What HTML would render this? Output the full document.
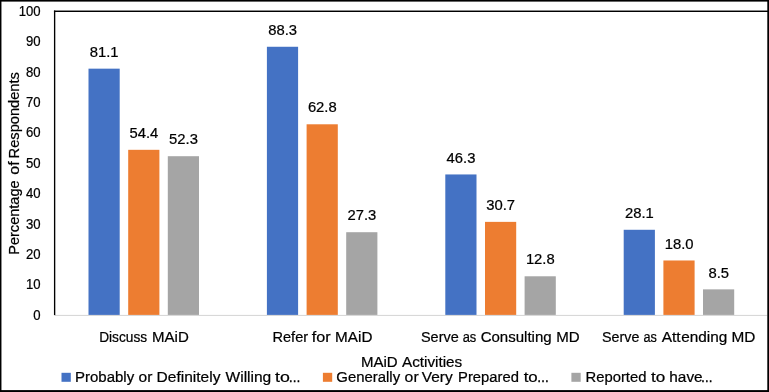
<!DOCTYPE html><html><head><meta charset="utf-8"><title>Chart</title><style>html,body{margin:0;padding:0;background:#fff}svg{display:block;will-change:transform}text{font-family:"Liberation Sans",sans-serif;font-size:14.9px;fill:#000;stroke:#000;stroke-width:0.22px}.d{font-size:14.8px;text-anchor:middle}.t{font-size:14.2px;text-anchor:end}</style></head><body>
<svg width="769" height="392" viewBox="0 0 769 392">
<rect x="0" y="0" width="769" height="392" fill="#fff"/>
<rect x="55" y="314.9" width="712.4" height="1.0" fill="#d4d4d4"/>
<rect x="88.50" y="68.66" width="31.20" height="246.24" fill="#4472C4"/>
<text class="d" x="104.20" y="56.86">81.1</text>
<rect x="128.20" y="149.82" width="31.20" height="165.08" fill="#ED7D31"/>
<text class="d" x="143.90" y="138.02">54.4</text>
<rect x="167.80" y="156.21" width="31.20" height="158.69" fill="#A5A5A5"/>
<text class="d" x="183.50" y="144.41">52.3</text>
<rect x="266.90" y="46.77" width="31.20" height="268.13" fill="#4472C4"/>
<text class="d" x="282.60" y="34.97">88.3</text>
<rect x="306.60" y="124.29" width="31.20" height="190.61" fill="#ED7D31"/>
<text class="d" x="322.30" y="112.49">62.8</text>
<rect x="346.20" y="232.21" width="31.20" height="82.69" fill="#A5A5A5"/>
<text class="d" x="361.90" y="220.41">27.3</text>
<rect x="445.30" y="174.45" width="31.20" height="140.45" fill="#4472C4"/>
<text class="d" x="461.00" y="162.65">46.3</text>
<rect x="485.00" y="221.87" width="31.20" height="93.03" fill="#ED7D31"/>
<text class="d" x="500.70" y="210.07">30.7</text>
<rect x="524.60" y="276.29" width="31.20" height="38.61" fill="#A5A5A5"/>
<text class="d" x="540.30" y="264.49">12.8</text>
<rect x="623.70" y="229.78" width="31.20" height="85.12" fill="#4472C4"/>
<text class="d" x="639.40" y="217.98">28.1</text>
<rect x="663.40" y="260.48" width="31.20" height="54.42" fill="#ED7D31"/>
<text class="d" x="679.10" y="248.68">18.0</text>
<rect x="703.00" y="289.36" width="31.20" height="25.54" fill="#A5A5A5"/>
<text class="d" x="718.70" y="277.56">8.5</text>
<rect x="53.95" y="10.55" width="714" height="1.45" fill="#000"/>
<rect x="53.95" y="10.55" width="1.35" height="304.6" fill="#000"/>
<rect x="0" y="0" width="769" height="1.6" fill="#000"/>
<rect x="0" y="390.1" width="769" height="1.9" fill="#000"/>
<rect x="0" y="0" width="1.45" height="392" fill="#000"/>
<rect x="767.3" y="0" width="1.7" height="392" fill="#000"/>
<text class="t" x="40.6" y="319.80" textLength="7.31" lengthAdjust="spacingAndGlyphs">0</text>
<text class="t" x="40.6" y="289.40" textLength="14.61" lengthAdjust="spacingAndGlyphs">10</text>
<text class="t" x="40.6" y="259.00" textLength="14.61" lengthAdjust="spacingAndGlyphs">20</text>
<text class="t" x="40.6" y="228.60" textLength="14.61" lengthAdjust="spacingAndGlyphs">30</text>
<text class="t" x="40.6" y="198.20" textLength="14.61" lengthAdjust="spacingAndGlyphs">40</text>
<text class="t" x="40.6" y="167.80" textLength="14.61" lengthAdjust="spacingAndGlyphs">50</text>
<text class="t" x="40.6" y="137.40" textLength="14.61" lengthAdjust="spacingAndGlyphs">60</text>
<text class="t" x="40.6" y="107.00" textLength="14.61" lengthAdjust="spacingAndGlyphs">70</text>
<text class="t" x="40.6" y="76.60" textLength="14.61" lengthAdjust="spacingAndGlyphs">80</text>
<text class="t" x="40.6" y="46.20" textLength="14.61" lengthAdjust="spacingAndGlyphs">90</text>
<text class="t" x="40.6" y="15.80" textLength="21.92" lengthAdjust="spacingAndGlyphs">100</text>
<text transform="translate(19.4,0) rotate(-90)" y="0"><tspan x="-254.80" textLength="74.45" lengthAdjust="spacingAndGlyphs">Percentage</tspan> <tspan x="-174.68" textLength="13.26" lengthAdjust="spacingAndGlyphs">of</tspan> <tspan x="-158.41" textLength="86.33" lengthAdjust="spacingAndGlyphs">Respondents</tspan></text>
<text y="342.10"><tspan x="99.17" textLength="48.02" lengthAdjust="spacingAndGlyphs">Discuss</tspan> <tspan x="152.06" textLength="36.74" lengthAdjust="spacingAndGlyphs">MAiD</tspan></text>
<text y="342.10"><tspan x="272.50" textLength="35.63" lengthAdjust="spacingAndGlyphs">Refer</tspan> <tspan x="311.86" textLength="18.88" lengthAdjust="spacingAndGlyphs">for</tspan> <tspan x="335.14" textLength="37.27" lengthAdjust="spacingAndGlyphs">MAiD</tspan></text>
<text y="342.10"><tspan x="420.95" textLength="37.80" lengthAdjust="spacingAndGlyphs">Serve</tspan> <tspan x="462.65" textLength="13.61" lengthAdjust="spacingAndGlyphs">as</tspan> <tspan x="480.65" textLength="70.99" lengthAdjust="spacingAndGlyphs">Consulting</tspan> <tspan x="556.26" textLength="23.46" lengthAdjust="spacingAndGlyphs">MD</tspan></text>
<text y="342.10"><tspan x="602.06" textLength="37.39" lengthAdjust="spacingAndGlyphs">Serve</tspan> <tspan x="643.56" textLength="13.40" lengthAdjust="spacingAndGlyphs">as</tspan> <tspan x="661.66" textLength="18.96" lengthAdjust="spacingAndGlyphs">Att</tspan><tspan x="681.25" textLength="46.02" lengthAdjust="spacingAndGlyphs">ending</tspan> <tspan x="731.43" textLength="23.90" lengthAdjust="spacingAndGlyphs">MD</tspan></text>
<text y="367.00"><tspan x="360.96" textLength="36.74" lengthAdjust="spacingAndGlyphs">MAiD</tspan> <tspan x="401.96" textLength="60.28" lengthAdjust="spacingAndGlyphs">Activities</tspan></text>
<rect x="61.5" y="372.8" width="9.3" height="9.0" fill="#4472C4"/>
<rect x="322.9" y="372.8" width="9.3" height="9.0" fill="#ED7D31"/>
<rect x="571.4" y="372.8" width="9.3" height="9.0" fill="#A5A5A5"/>
<text y="382.20"><tspan x="75.06" textLength="59.16" lengthAdjust="spacingAndGlyphs">Probably</tspan> <tspan x="138.64" textLength="13.82" lengthAdjust="spacingAndGlyphs">or</tspan> <tspan x="156.62" textLength="63.83" lengthAdjust="spacingAndGlyphs">Definitely</tspan> <tspan x="225.52" textLength="45.75" lengthAdjust="spacingAndGlyphs">Willing</tspan> <tspan x="275.13" textLength="14.80" lengthAdjust="spacingAndGlyphs">to</tspan><tspan x="288.45" textLength="12.19" lengthAdjust="spacingAndGlyphs" style="stroke-width:0.55px">…</tspan></text>
<text y="382.20"><tspan x="336.35" textLength="63.78" lengthAdjust="spacingAndGlyphs">Generally</tspan> <tspan x="404.63" textLength="14.03" lengthAdjust="spacingAndGlyphs">or</tspan> <tspan x="421.82" textLength="30.93" lengthAdjust="spacingAndGlyphs">Very</tspan> <tspan x="458.08" textLength="60.87" lengthAdjust="spacingAndGlyphs">Prepared</tspan> <tspan x="523.65" textLength="14.05" lengthAdjust="spacingAndGlyphs">to</tspan><tspan x="536.97" textLength="12.05" lengthAdjust="spacingAndGlyphs" style="stroke-width:0.55px">…</tspan></text>
<text y="382.20"><tspan x="585.48" textLength="60.97" lengthAdjust="spacingAndGlyphs">Reported</tspan> <tspan x="650.94" textLength="14.27" lengthAdjust="spacingAndGlyphs">to</tspan> <tspan x="669.32" textLength="33.35" lengthAdjust="spacingAndGlyphs">have</tspan><tspan x="700.67" textLength="12.05" lengthAdjust="spacingAndGlyphs" style="stroke-width:0.55px">…</tspan></text>
</svg></body></html>
